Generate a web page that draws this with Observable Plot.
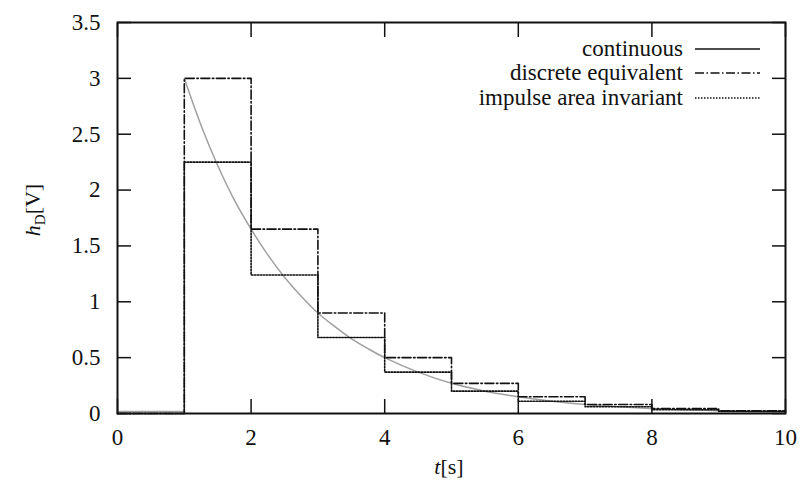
<!DOCTYPE html>
<html><head><meta charset="utf-8">
<script src="https://cdn.jsdelivr.net/npm/d3@7"></script>
<script src="https://cdn.jsdelivr.net/npm/@observablehq/plot@0.6"></script>
<style>body{margin:0;background:#fff} svg{display:block} svg text{font-family:"Liberation Serif","Times New Roman",Times,Tinos,"Nimbus Roman","DejaVu Serif","Noto Serif",serif}</style>
</head><body><div id="chart"></div>
<script>
const xTicks = [0, 2, 4, 6, 8, 10];
const yTicks = [0, 0.5, 1, 1.5, 2, 2.5, 3, 3.5];
const stepT = [0, 1, 2, 3, 4, 5, 6, 7, 8, 9, 10];
const discreteV = [0, 3.00, 1.65, 0.90, 0.50, 0.27, 0.15, 0.08, 0.045, 0.025, 0.025];
const impulseV = [0, 2.25, 1.24, 0.68, 0.37, 0.20, 0.11, 0.06, 0.034, 0.019, 0.019];
const contT = [1, 1.25, 1.5, 1.75, 2, 2.25, 2.5, 2.75, 3, 3.25, 3.5, 3.75, 4, 4.5, 5, 5.5, 6, 6.5, 7, 7.5, 8, 8.5, 9, 9.5, 10];
const contV = [3.00, 2.58, 2.22, 1.91, 1.65, 1.42, 1.22, 1.05, 0.90, 0.78, 0.67, 0.58, 0.50, 0.37, 0.27, 0.20, 0.15, 0.11, 0.08, 0.06, 0.045, 0.033, 0.025, 0.018, 0.013];
const zeroT = [0, 1];
const zeroV = [0, 0];
const legendLabels = ["continuous", "discrete equivalent", "impulse area invariant"];

const stepData = stepT.map((t, i) => ({t, d: discreteV[i], p: impulseV[i]}));
const contData = contT.map((t, i) => ({t, v: contV[i]}));
const zeroData = zeroT.map((t, i) => ({t, v: zeroV[i]}));

const FONT = "Liberation Serif, Times New Roman, Times, serif";
const DASHDOT = "9,2.5,1.5,2.5";
const DOT = "1.5,1.5";

const svg = Plot.plot({
  width: 801, height: 489,
  marginLeft: 117, marginRight: 16, marginTop: 22, marginBottom: 76,
  style: {fontFamily: FONT, fontSize: "23px", background: "white", color: "#111"},
  x: {domain: [0, 10], label: null},
  y: {domain: [0, 3.5], label: null},
  marks: [
    Plot.axisX({anchor: "bottom", ticks: xTicks, tickSize: -14, tickPadding: 29, strokeWidth: 1.5, tickFormat: d => String(d), label: null}),
    Plot.axisX({anchor: "top", ticks: xTicks, tickSize: -14, strokeWidth: 1.5, tickFormat: () => "", label: null}),
    Plot.axisY({anchor: "left", ticks: yTicks, tickSize: -14, tickPadding: 31, strokeWidth: 1.5, tickFormat: d => String(d), label: null}),
    Plot.axisY({anchor: "right", ticks: yTicks, tickSize: -14, strokeWidth: 1.5, tickFormat: () => "", label: null}),
    Plot.line(zeroData, {x: "t", y: "v", stroke: "#a0a0a0", strokeWidth: 1.5, dy: -2}),
    Plot.line(contData, {x: "t", y: "v", stroke: "#a0a0a0", strokeWidth: 1.5, curve: "catmull-rom"}),
    Plot.line(stepData, {x: "t", y: "d", stroke: "#111", strokeWidth: 1.6, curve: "step-after", strokeDasharray: DASHDOT}),
    Plot.line(stepData, {x: "t", y: "p", stroke: "#111", strokeWidth: 1.6, curve: "step-after", strokeDasharray: DOT}),
    Plot.frame({stroke: "#111", strokeWidth: 2})
  ]
});

const sel = d3.select(svg);
// y axis label
const yl = sel.append("text")
  .attr("transform", "translate(40,210) rotate(-90)")
  .attr("text-anchor", "middle")
  .attr("font-size", 22).attr("fill", "#111");
yl.append("tspan").attr("font-style", "italic").text("h");
yl.append("tspan").attr("font-size", 15).attr("dy", 5).text("D");
yl.append("tspan").attr("dy", -5).text("[V]");
// x axis label
const xl = sel.append("text")
  .attr("x", 449).attr("y", 474)
  .attr("text-anchor", "middle")
  .attr("font-size", 22).attr("fill", "#111");
xl.append("tspan").attr("font-style", "italic").text("t");
xl.append("tspan").text("[s]");
// legend
const dashes = [null, DASHDOT, DOT];
const rowsY = [49, 73, 98];
legendLabels.forEach((lab, i) => {
  sel.append("text").attr("x", 683).attr("y", rowsY[i] + 7)
    .attr("text-anchor", "end").attr("font-size", 23).attr("fill", "#111")
    .text(lab);
  sel.append("line").attr("x1", 695).attr("x2", 760).attr("y1", rowsY[i]).attr("y2", rowsY[i])
    .attr("stroke", "#111").attr("stroke-width", 1.6)
    .attr("stroke-dasharray", dashes[i]);
});

document.getElementById("chart").appendChild(svg);
</script>
</body></html>
